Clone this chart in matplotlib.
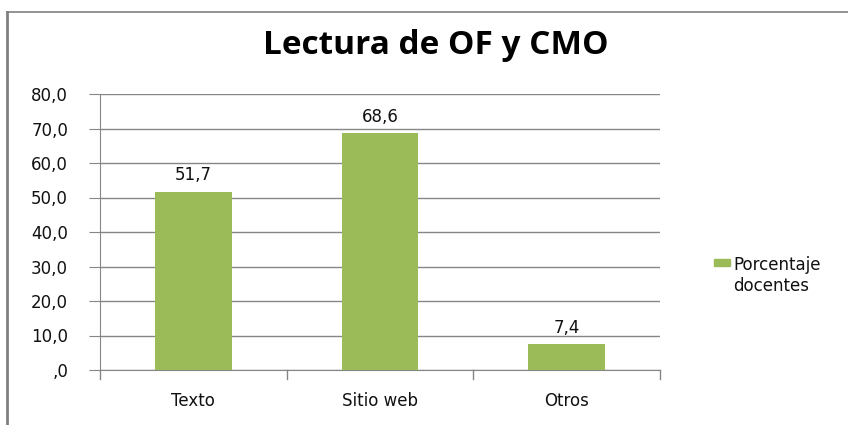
import matplotlib
matplotlib.use("Agg")
import matplotlib.pyplot as plt
from matplotlib.patches import Rectangle
from matplotlib.lines import Line2D

categories = ["Texto", "Sitio web", "Otros"]
values = [51.7, 68.6, 7.4]
yticks = [0, 10, 20, 30, 40, 50, 60, 70, 80]
ytick_labels = [",0", "10,0", "20,0", "30,0", "40,0", "50,0", "60,0", "70,0", "80,0"]
title = "Lectura de OF y CMO"
legend_label = "Porcentaje\ndocentes"

W, H = 848, 425
fig = plt.figure(figsize=(W / 100, H / 100), dpi=100)
fig.patch.set_facecolor("white")

# outer border (left and top)
fig.add_artist(Line2D([7 / W, 7 / W], [0, 1 - 12 / H], color="#808080", lw=2, transform=fig.transFigure))
fig.add_artist(Line2D([7 / W, 1], [1 - 12 / H, 1 - 12 / H], color="#808080", lw=1.2, transform=fig.transFigure))

ax = fig.add_axes([100 / W, 1 - 370 / H, 560 / W, 276 / H])
color = "#9BBB59"
x = list(range(len(categories)))
ax.bar(x, values, width=0.41, color=color, zorder=3)
ax.set_xlim(-0.5, len(categories) - 0.5)
ax.set_ylim(0, 80)
ax.set_yticks(yticks)
ax.set_yticklabels(ytick_labels, fontsize=12, family="DejaVu Sans", color="#111111")
ax.yaxis.grid(True, color="#868686", lw=1, zorder=0)
ax.set_xticks(x)
ax.set_xticklabels(categories, fontsize=12, family="DejaVu Sans", color="#111111")
ax.tick_params(axis="x", length=0, pad=16)
ax.tick_params(axis="y", length=8, color="#868686", pad=15)
for b in [-0.5, 0.5, 1.5, 2.5]:
    ax.plot([b, b], [0, -2.5], color="#868686", lw=1, clip_on=False)
for s in ["top", "right"]:
    ax.spines[s].set_visible(False)
ax.spines["left"].set_color("#868686")
ax.spines["bottom"].set_color("#868686")

for xi, v in zip(x, values):
    ax.text(xi, v + 3.4, f"{v:.1f}".replace(".", ","), ha="center", va="baseline",
            fontsize=12, family="DejaVu Sans", color="#111111")

fig.text(436 / W, 1 - 46 / H, title, ha="center", va="center", fontsize=24,
         fontweight="bold", family="Open Sans")

# legend
fig.add_artist(Rectangle((714 / W, 1 - 266 / H), 16 / W, 7 / H, color=color, transform=fig.transFigure))
fig.text(733 / W, 1 - 256 / H, legend_label, ha="left", va="top", fontsize=12,
         family="DejaVu Sans", color="#111111", linespacing=1.2,
         multialignment="left")

fig.savefig("out.png", dpi=100)
